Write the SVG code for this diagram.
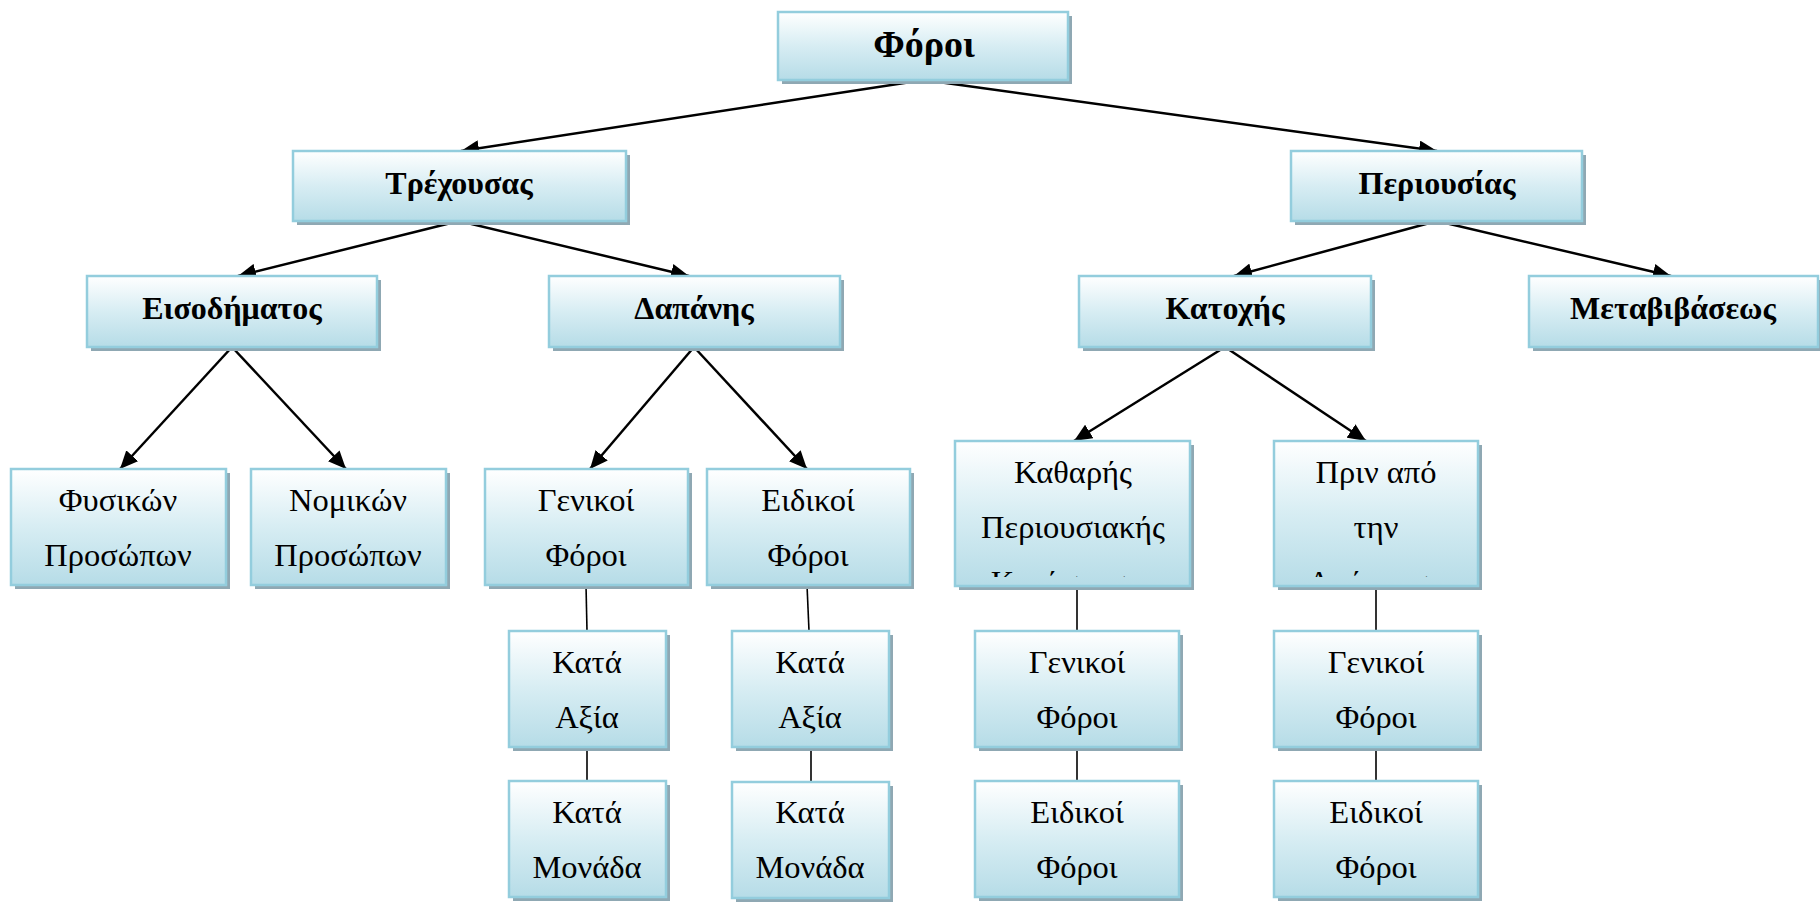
<svg xmlns="http://www.w3.org/2000/svg" width="1820" height="902" viewBox="0 0 1820 902">
<style>
.sh{fill:#8fa8b3}
.bx{fill:url(#g);stroke:#93cddd;stroke-width:2.5}
.t{font-family:"Liberation Serif","Times New Roman",serif;font-size:32.5px;fill:#000;text-anchor:middle}
.b{font-weight:bold;font-size:32px}
.top{font-size:38px}
.ar{stroke:#000;stroke-width:2.5;fill:none;marker-end:url(#ah)}
.ln{stroke:#000;stroke-width:1.6;fill:none}
</style>
<defs>
<linearGradient id="g" x1="0" y1="0" x2="0" y2="1">
<stop offset="0" stop-color="#ffffff"/>
<stop offset="0.5" stop-color="#d7edf3"/>
<stop offset="1" stop-color="#b6dce7"/>
</linearGradient>
<marker id="ah" markerUnits="userSpaceOnUse" markerWidth="19" markerHeight="16" refX="18" refY="8" orient="auto">
<path d="M0,0 L18,8 L0,16 z" fill="#000"/>
</marker>
<clipPath id="c1"><rect x="955" y="441" width="235" height="136"/></clipPath>
<clipPath id="c2"><rect x="1274" y="441" width="204" height="136"/></clipPath>
</defs>
<rect width="1820" height="902" fill="#fff"/>

<g id="connectors">
<path class="ar" d="M924,80 L461,151"/>
<path class="ar" d="M924,80 L1437,151"/>
<path class="ar" d="M459,221 L238,276"/>
<path class="ar" d="M459,221 L689,276"/>
<path class="ar" d="M1437,221 L1234,276"/>
<path class="ar" d="M1437,221 L1671,276"/>
<path class="ar" d="M232,347 L120,469"/>
<path class="ar" d="M232,347 L346,469"/>
<path class="ar" d="M694,347 L590,469"/>
<path class="ar" d="M694,347 L807,469"/>
<path class="ar" d="M1225,347 L1074,441"/>
<path class="ar" d="M1225,347 L1366,441"/>
<path class="ln" d="M586,585 L587,631"/>
<path class="ln" d="M587,747 L587,781"/>
<path class="ln" d="M807,585 L809,631"/>
<path class="ln" d="M811,747 L811,782"/>
<path class="ln" d="M1077,586 L1077,631"/>
<path class="ln" d="M1077,747 L1077,781"/>
<path class="ln" d="M1376,586 L1376,631"/>
<path class="ln" d="M1376,747 L1376,781"/>
</g>

<g id="foroi"><rect class="sh" x="782" y="16" width="290" height="68"/><rect class="bx" x="778" y="12" width="290" height="68"/><text class="t b top" x="924" y="57">Φόροι</text></g>
<g id="trexousas"><rect class="sh" x="297" y="155" width="333" height="70"/><rect class="bx" x="293" y="151" width="333" height="70"/><text class="t b" x="459" y="194">Τρέχουσας</text></g>
<g id="periousias"><rect class="sh" x="1295" y="155" width="291" height="70"/><rect class="bx" x="1291" y="151" width="291" height="70"/><text class="t b" x="1437" y="194">Περιουσίας</text></g>
<g id="eisodimatos"><rect class="sh" x="91" y="280" width="290" height="71"/><rect class="bx" x="87" y="276" width="290" height="71"/><text class="t b" x="232" y="319">Εισοδήματος</text></g>
<g id="dapanis"><rect class="sh" x="553" y="280" width="291" height="71"/><rect class="bx" x="549" y="276" width="291" height="71"/><text class="t b" x="694" y="319">Δαπάνης</text></g>
<g id="katoxis"><rect class="sh" x="1083" y="280" width="292" height="71"/><rect class="bx" x="1079" y="276" width="292" height="71"/><text class="t b" x="1225" y="319">Κατοχής</text></g>
<g id="metavivaseos"><rect class="sh" x="1533" y="280" width="289" height="71"/><rect class="bx" x="1529" y="276" width="289" height="71"/><text class="t b" x="1673" y="319">Μεταβιβάσεως</text></g>

<g id="fysikon"><rect class="sh" x="15" y="473" width="215" height="116"/><rect class="bx" x="11" y="469" width="215" height="116"/><text class="t" x="118" y="511">Φυσικών</text><text class="t" x="118" y="566">Προσώπων</text></g>
<g id="nomikon"><rect class="sh" x="255" y="473" width="195" height="116"/><rect class="bx" x="251" y="469" width="195" height="116"/><text class="t" x="348" y="511">Νομικών</text><text class="t" x="348" y="566">Προσώπων</text></g>
<g id="genikoi_dapanis"><rect class="sh" x="489" y="473" width="203" height="116"/><rect class="bx" x="485" y="469" width="203" height="116"/><text class="t" x="586" y="511">Γενικοί</text><text class="t" x="586" y="566">Φόροι</text></g>
<g id="eidikoi_dapanis"><rect class="sh" x="711" y="473" width="203" height="116"/><rect class="bx" x="707" y="469" width="203" height="116"/><text class="t" x="808" y="511">Ειδικοί</text><text class="t" x="808" y="566">Φόροι</text></g>
<g id="katharis"><rect class="sh" x="959" y="445" width="235" height="145"/><rect class="bx" x="955" y="441" width="235" height="145"/><text class="t" x="1073" y="483">Καθαρής</text><text class="t" x="1073" y="538">Περιουσιακής</text><text class="t" x="1073" y="593" clip-path="url(#c1)">Κατάστασης</text></g>
<g id="prin"><rect class="sh" x="1278" y="445" width="204" height="145"/><rect class="bx" x="1274" y="441" width="204" height="145"/><text class="t" x="1376" y="483">Πριν από</text><text class="t" x="1376" y="538">την</text><text class="t" x="1376" y="593" clip-path="url(#c2)">Απόκτηση</text></g>

<g id="kata_axia_1"><rect class="sh" x="513" y="635" width="157" height="116"/><rect class="bx" x="509" y="631" width="157" height="116"/><text class="t" x="587" y="673">Κατά</text><text class="t" x="587" y="728">Αξία</text></g>
<g id="kata_axia_2"><rect class="sh" x="736" y="635" width="157" height="116"/><rect class="bx" x="732" y="631" width="157" height="116"/><text class="t" x="810" y="673">Κατά</text><text class="t" x="810" y="728">Αξία</text></g>
<g id="kata_monada_1"><rect class="sh" x="513" y="785" width="157" height="116"/><rect class="bx" x="509" y="781" width="157" height="116"/><text class="t" x="587" y="823">Κατά</text><text class="t" x="587" y="878">Μονάδα</text></g>
<g id="kata_monada_2"><rect class="sh" x="736" y="786" width="157" height="116"/><rect class="bx" x="732" y="782" width="157" height="116"/><text class="t" x="810" y="823">Κατά</text><text class="t" x="810" y="878">Μονάδα</text></g>
<g id="genikoi_katoxis"><rect class="sh" x="979" y="635" width="204" height="116"/><rect class="bx" x="975" y="631" width="204" height="116"/><text class="t" x="1077" y="673">Γενικοί</text><text class="t" x="1077" y="728">Φόροι</text></g>
<g id="eidikoi_katoxis"><rect class="sh" x="979" y="785" width="204" height="116"/><rect class="bx" x="975" y="781" width="204" height="116"/><text class="t" x="1077" y="823">Ειδικοί</text><text class="t" x="1077" y="878">Φόροι</text></g>
<g id="genikoi_prin"><rect class="sh" x="1278" y="635" width="204" height="116"/><rect class="bx" x="1274" y="631" width="204" height="116"/><text class="t" x="1376" y="673">Γενικοί</text><text class="t" x="1376" y="728">Φόροι</text></g>
<g id="eidikoi_prin"><rect class="sh" x="1278" y="785" width="204" height="116"/><rect class="bx" x="1274" y="781" width="204" height="116"/><text class="t" x="1376" y="823">Ειδικοί</text><text class="t" x="1376" y="878">Φόροι</text></g>
</svg>
